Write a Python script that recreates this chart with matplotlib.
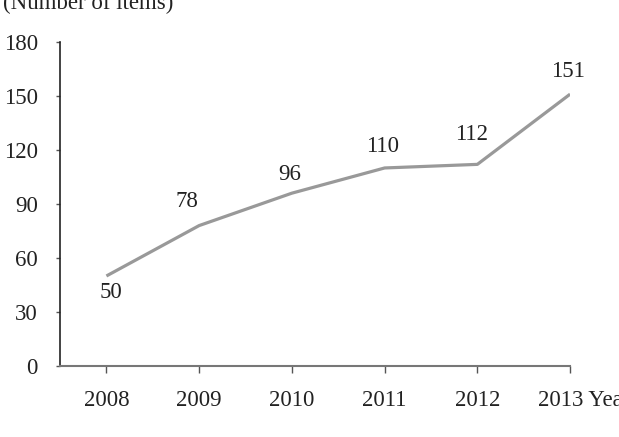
import matplotlib
matplotlib.use("Agg")
import matplotlib.pyplot as plt
import matplotlib.transforms as mtransforms

years = ["2008", "2009", "2010", "2011", "2012", "2013 Year"]
items = [50, 78, 96, 110, 112, 151]
yticks = [0, 30, 60, 90, 120, 150, 180]

# label offsets in pixels (dx, dy)
label_off = [(5, -17), (-12, 24), (-2, 19), (-2, 21), (-6, 30), (-2, 23)]

plt.rcParams['font.family'] = ['Liberation Serif', 'DejaVu Serif']

fig = plt.figure(figsize=(6.19, 4.37), dpi=100)
ax = fig.add_axes([0.097, 0.1625, 0.824, 0.7415])

x = list(range(len(items)))
ax.plot(x, items, color='#999999', lw=2.3, solid_capstyle='butt')

for xi, v, (dx, dy) in zip(x, items, label_off):
    ax.annotate(str(v), (xi, v), xytext=(dx, dy), textcoords='offset pixels',
                ha='center', va='center', fontsize=16.5, color='#222222')

ax.set_xlim(-0.5, 5)
ax.set_ylim(0, 180)
ax.set_yticks(yticks)
ax.set_xticks(x)
ax.set_xticklabels(years)

for s in ['top', 'right']:
    ax.spines[s].set_visible(False)
ax.spines['left'].set_color('#222222')
ax.spines['bottom'].set_color('#777777')
ax.spines['left'].set_linewidth(1.2)
ax.spines['bottom'].set_linewidth(1.5)

ax.tick_params(axis='y', length=3, width=1, pad=13, labelsize=16.5, labelcolor='#222222', color='#555555')
ax.tick_params(axis='x', length=5, width=1, pad=12, labelsize=16.5, labelcolor='#222222', color='#555555')

# last label "2013 Year" starts a bit left of its tick
last = ax.get_xticklabels()[-1]
last.set_ha('left')
last.set_transform(last.get_transform() + mtransforms.ScaledTranslation(-32 / 100, 0, fig.dpi_scale_trans))

fig.text(3 / 619, 1 - 9 / 437, "(Number of items)", ha='left', va='baseline', fontsize=16.5, color='#222222')

fig.savefig("out.png", dpi=100)
